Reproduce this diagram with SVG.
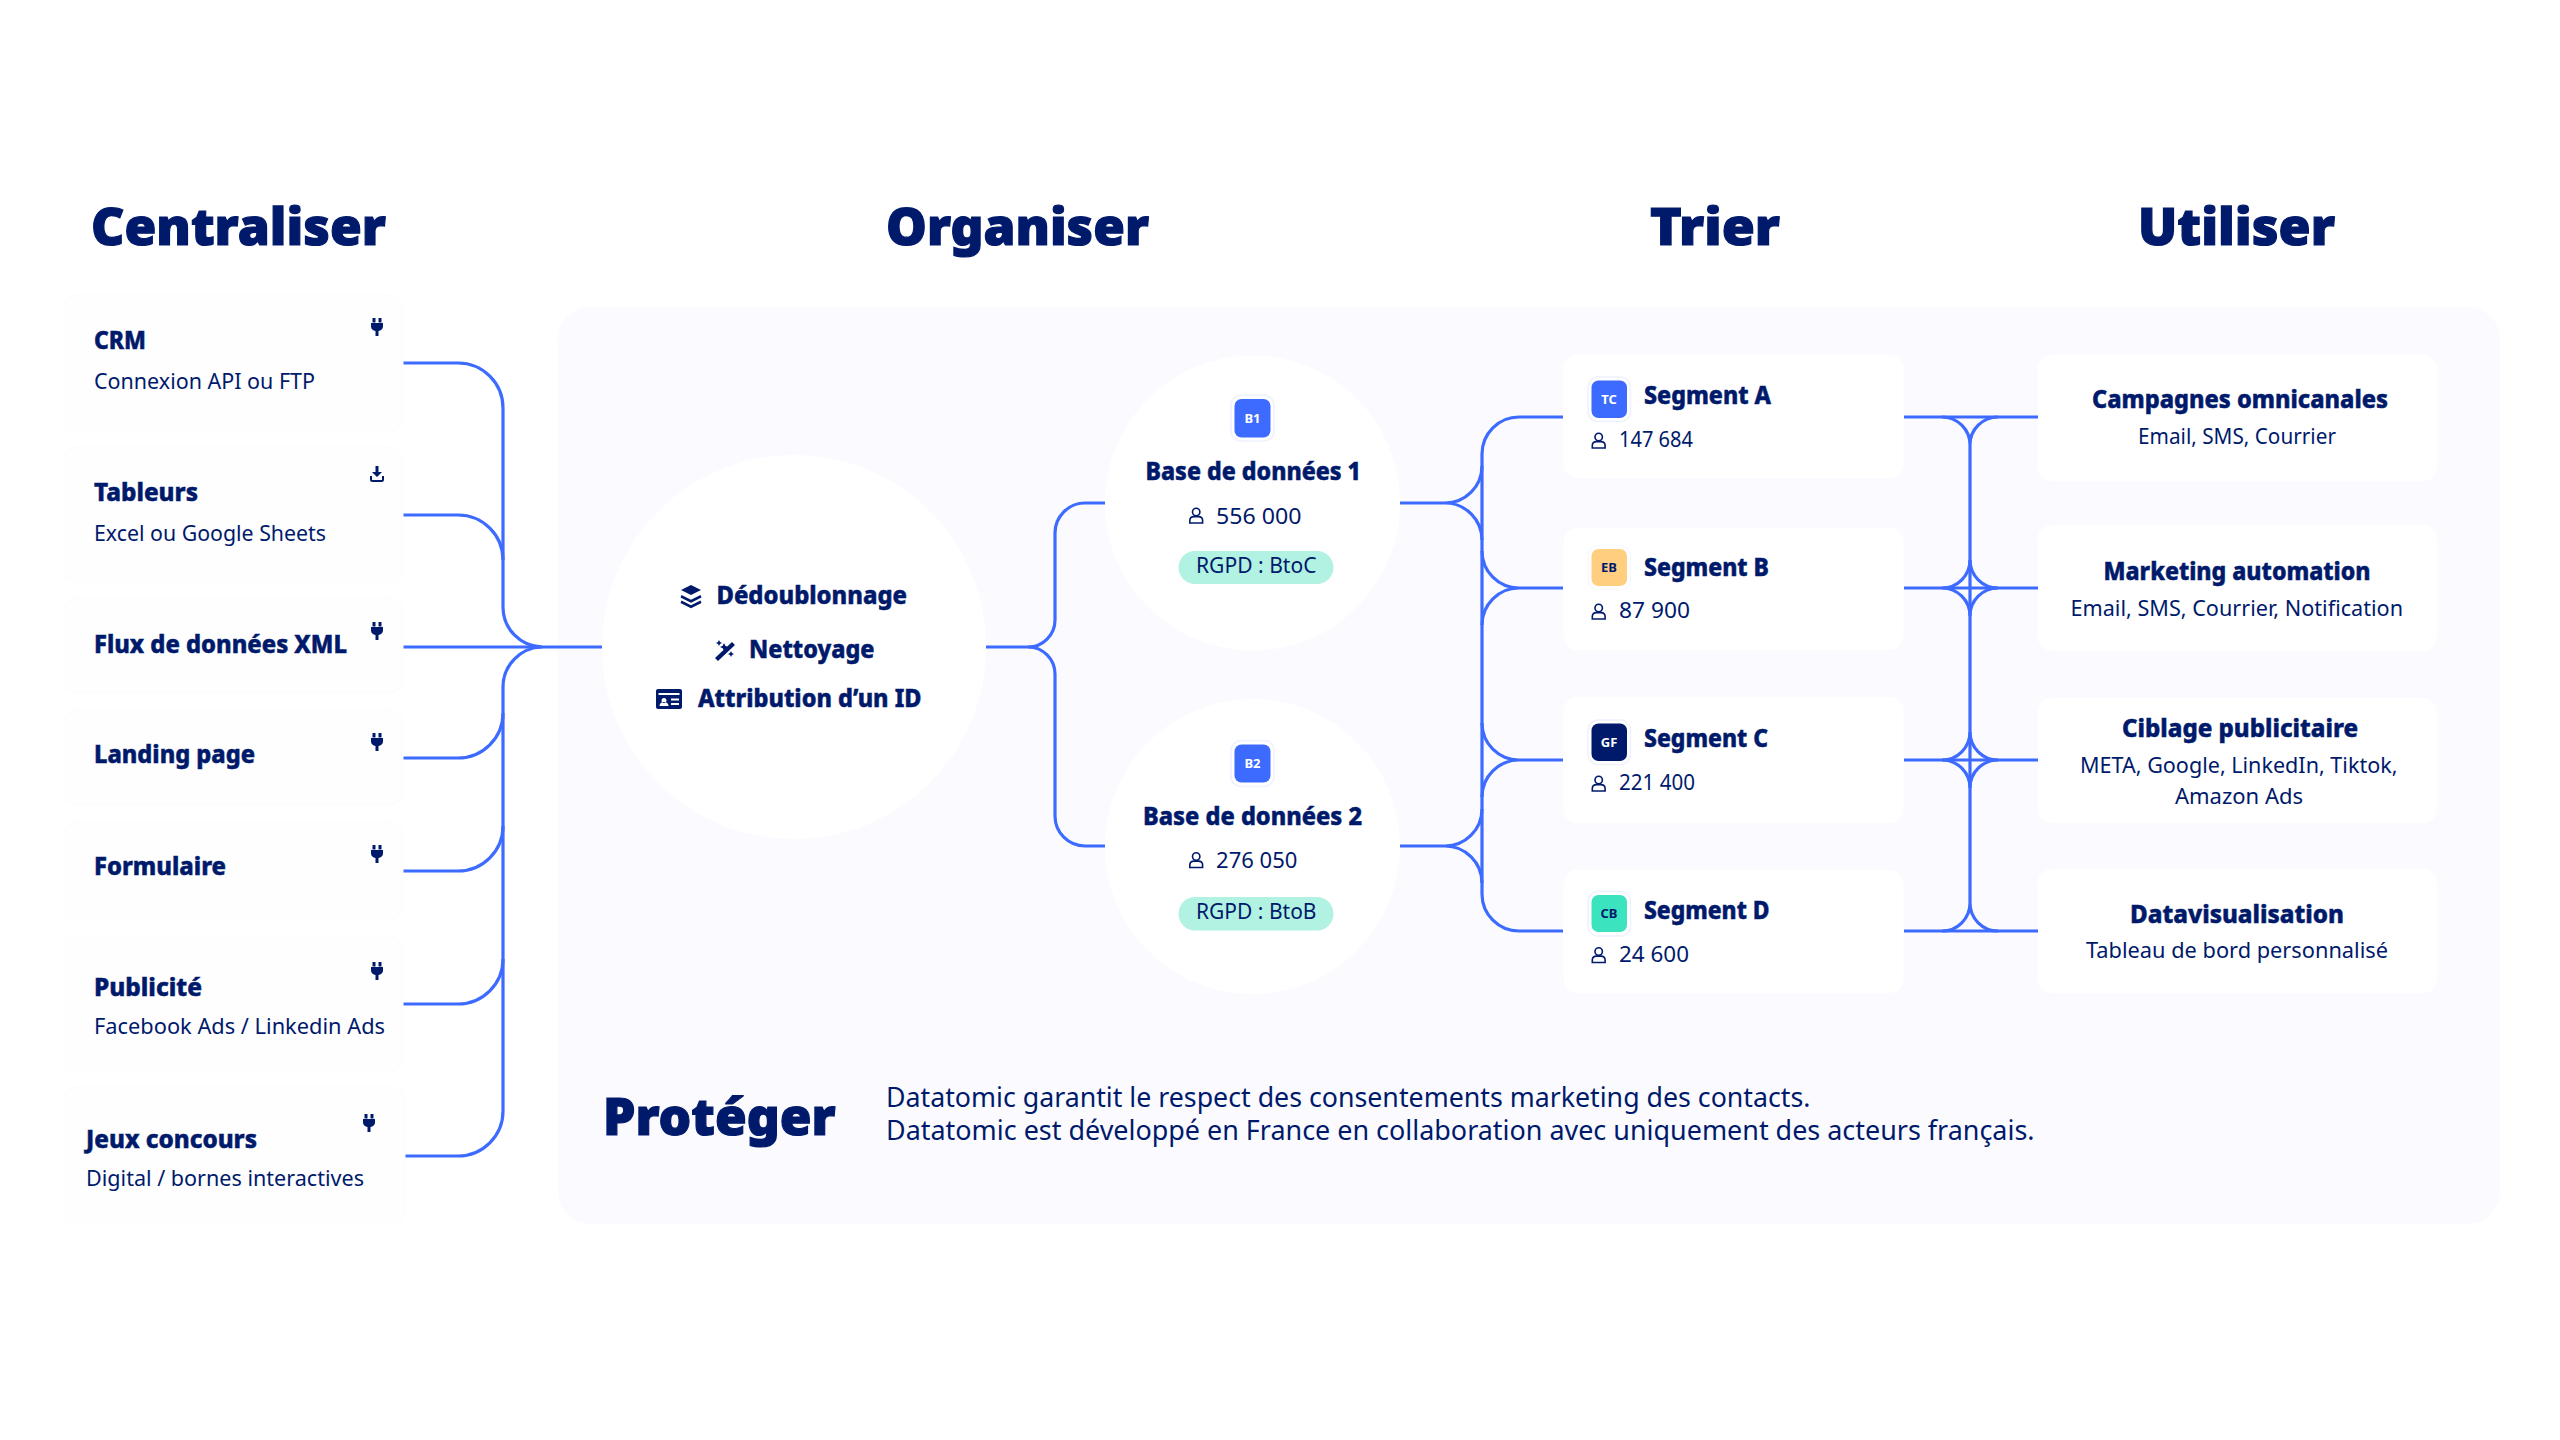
<svg xmlns="http://www.w3.org/2000/svg" width="2560" height="1440" viewBox="0 0 2560 1440">
<style>
text{font-family:"Noto Sans","Open Sans",sans-serif;fill:#001A6B}
.h{font-size:52px;font-weight:900;stroke:#001A6B;stroke-width:1.200px}
.b{font-size:25px;font-weight:800;stroke:#001A6B;stroke-width:.5px}
.r{font-size:22px;font-weight:400}
.p{font-size:27px;font-weight:400}
.t{font-size:13px;font-weight:700;text-anchor:middle}
text.w{fill:#fff}
.card{fill:#FEFEFF;stroke:#FCFCFF;stroke-width:1}
.wire{fill:none;stroke:#3D6BFF;stroke-width:3.200}
.pale{fill:#fff;stroke:#EEF1FE;stroke-width:1.500}
.pers{fill:none;stroke:#001A6B;stroke-width:1.600}
</style>
<defs>
<g id="plug"><path fill="#001A6B" d="M-4.500-9h3v4.500h-3zM1.500-9h3v4.500h-3zM-6-4h12v3.500c0 2.500-2 4-4.500 4.600v4.900h-3v-4.900c-2.500-.6-4.500-2.100-4.500-4.600z"/></g>
<g id="person"><circle cx="7.200" cy="4" r="3.700" class="pers"/><path class="pers" d="M.8 15v-2.400c0-2.500 2-4 4.300-4h4.200c2.300 0 4.300 1.500 4.300 4v2.400z"/></g>
</defs>
<rect width="2560" height="1440" fill="#fff"/>
<g id="panel"><rect x="558" y="307" width="1942" height="917" rx="32" fill="#FBFBFF"/></g>
<g id="titles">
<text class="h" x="91" y="245" textLength="295" lengthAdjust="spacingAndGlyphs">Centraliser</text>
<text class="h" x="886" y="245" textLength="263" lengthAdjust="spacingAndGlyphs">Organiser</text>
<text class="h" x="1650" y="245" textLength="130" lengthAdjust="spacingAndGlyphs">Trier</text>
<text class="h" x="2138" y="245" textLength="197" lengthAdjust="spacingAndGlyphs">Utiliser</text>
</g>
<g id="connectors" class="wire">
<path d="M403 363H458A45 45 0 0 1 503 408V607A40 40 0 0 0 542 647A40 40 0 0 0 503 687V1111A45 45 0 0 1 458 1156H405"/>
<path d="M403 515H458A45 45 0 0 1 503 560"/>
<path d="M403 647H602"/>
<path d="M403 758H458A45 45 0 0 0 503 713"/>
<path d="M403 871H458A45 45 0 0 0 503 826"/>
<path d="M403 1004H458A45 45 0 0 0 503 959"/>
<path d="M986 647H1028A27 27 0 0 0 1055 620V533A30 30 0 0 1 1085 503H1105"/>
<path d="M1028 647A27 27 0 0 1 1055 674V816A30 30 0 0 0 1085 846H1105"/>
<path d="M1400 503H1445A37 37 0 0 0 1482 466M1445 503A37 37 0 0 1 1482 540"/>
<path d="M1400 846H1445A37 37 0 0 0 1482 809M1445 846A37 37 0 0 1 1482 883"/>
<path d="M1482 454V894"/>
<path d="M1563 417H1519A37 37 0 0 0 1482 454"/>
<path d="M1563 588H1519A37 37 0 0 1 1482 551M1519 588A37 37 0 0 0 1482 625"/>
<path d="M1563 760H1519A37 37 0 0 1 1482 723M1519 760A37 37 0 0 0 1482 797"/>
<path d="M1563 931H1519A37 37 0 0 1 1482 894"/>
<path d="M1904 417H2038M1904 588H2038M1904 760H2038M1904 931H2038M1970 445V903"/>
<path d="M1942 417A28 28 0 0 1 1970 445A28 28 0 0 1 1998 417"/>
<path d="M1942 588A28 28 0 0 0 1970 560A28 28 0 0 0 1998 588A28 28 0 0 0 1970 616A28 28 0 0 0 1942 588Z"/>
<path d="M1942 760A28 28 0 0 0 1970 732A28 28 0 0 0 1998 760A28 28 0 0 0 1970 788A28 28 0 0 0 1942 760Z"/>
<path d="M1942 931A28 28 0 0 0 1970 903A28 28 0 0 0 1998 931"/>
</g>
<g id="crm"><rect class="card" x="64" y="295" width="339" height="137" rx="14"/>
<text class="b" x="94" y="349" textLength="52" lengthAdjust="spacingAndGlyphs">CRM</text>
<text class="r" x="94" y="389" textLength="221" lengthAdjust="spacingAndGlyphs">Connexion API ou FTP</text>
<use href="#plug" x="377" y="327"/></g>
<g id="tableurs"><rect class="card" x="64" y="447" width="339" height="136" rx="14"/>
<text class="b" x="94" y="501" textLength="104" lengthAdjust="spacingAndGlyphs">Tableurs</text>
<text class="r" x="94" y="541" textLength="232" lengthAdjust="spacingAndGlyphs">Excel ou Google Sheets</text>
<path fill="#001A6B" d="M375.500 466h3v6h3.500l-5 5-5-5h3.500z"/><path fill="none" stroke="#001A6B" stroke-width="2" d="M371 476v3.500c0 .8.700 1.500 1.500 1.500h9c.8 0 1.500-.7 1.500-1.500v-3.500"/></g>
<g id="xml"><rect class="card" x="64" y="598" width="339" height="95" rx="14"/>
<text class="b" x="94" y="653" textLength="253" lengthAdjust="spacingAndGlyphs">Flux de données XML</text>
<use href="#plug" x="377" y="631"/></g>
<g id="landing"><rect class="card" x="64" y="710" width="339" height="95" rx="14"/>
<text class="b" x="94" y="763" textLength="161" lengthAdjust="spacingAndGlyphs">Landing page</text>
<use href="#plug" x="377" y="742"/></g>
<g id="formulaire"><rect class="card" x="64" y="822" width="339" height="98" rx="14"/>
<text class="b" x="94" y="875" textLength="132" lengthAdjust="spacingAndGlyphs">Formulaire</text>
<use href="#plug" x="377" y="854"/></g>
<g id="publicite"><rect class="card" x="64" y="936" width="339" height="136" rx="14"/>
<text class="b" x="94" y="996" textLength="108" lengthAdjust="spacingAndGlyphs">Publicité</text>
<text class="r" x="94" y="1034" textLength="291" lengthAdjust="spacingAndGlyphs">Facebook Ads / Linkedin Ads</text>
<use href="#plug" x="377" y="971"/></g>
<g id="jeux"><rect class="card" x="64" y="1087" width="341" height="137" rx="14"/>
<text class="b" x="86" y="1148" textLength="171" lengthAdjust="spacingAndGlyphs">Jeux concours</text>
<text class="r" x="86" y="1186" textLength="278" lengthAdjust="spacingAndGlyphs">Digital / bornes interactives</text>
<use href="#plug" x="369" y="1123"/></g>
<g id="traitement"><circle cx="794" cy="647" r="192" fill="#fff"/>
<path fill="#001A6B" d="M691 585l10 5-10 5-10-5zM681.500 595l9.500 4.800 9.500-4.800 1 2.500-10.500 5.200-10.500-5.200zM681.500 600.500l9.500 4.800 9.500-4.800 1 2.500-10.500 5.200-10.500-5.200z"/>
<text class="b" x="716.500" y="604" textLength="190.500" lengthAdjust="spacingAndGlyphs">Dédoublonnage</text>
<path fill="#001A6B" d="M715 658l17-16 3 3-17 16zM724 643l1.300 2.700 2.700 1.300-2.700 1.300-1.300 2.700-1.300-2.700-2.700-1.300 2.700-1.300zM719 640l1 2 2 1-2 1-1 2-1-2-2-1 2-1zM731 651l1 2 2 1-2 1-1 2-1-2-2-1 2-1z"/>
<text class="b" x="749" y="658" textLength="125.500" lengthAdjust="spacingAndGlyphs">Nettoyage</text>
<path fill="#001A6B" fill-rule="evenodd" d="M658 689h22c1 0 2 .8 2 2v16c0 1-1 2-2 2h-22c-1 0-2-1-2-2v-16c0-1.200 1-2 2-2zM658.500 693v2h21v-2zM664 698a2.500 2.500 0 1 0 .01 0zM659.500 706h9c0-2.500-2-4-4.500-4s-4.500 1.500-4.500 4zM671 698.500v2h8v-2zM671 703v2h8v-2z"/>
<text class="b" x="698" y="707" textLength="223.500" lengthAdjust="spacingAndGlyphs">Attribution d’un ID</text></g>
<g id="base1"><circle cx="1252.500" cy="503" r="147.500" fill="#fff"/>
<rect class="pale" x="1231" y="395" width="43" height="46" rx="10"/><rect x="1234.500" y="399" width="36" height="38.500" rx="7" fill="#3D6BFF"/>
<text class="t w" x="1252.500" y="423">B1</text>
<text class="b" x="1145.500" y="479.500" textLength="215.500" lengthAdjust="spacingAndGlyphs">Base de données 1</text>
<use href="#person" x="1189" y="508"/>
<text class="r" x="1216" y="523.500" textLength="85.500" lengthAdjust="spacingAndGlyphs">556 000</text>
<rect x="1178.500" y="551" width="155" height="33" rx="16.500" fill="#B2F2E2"/>
<text class="r" x="1196" y="573" textLength="120.500" lengthAdjust="spacingAndGlyphs">RGPD : BtoC</text></g>
<g id="base2"><circle cx="1252.500" cy="846.500" r="147.500" fill="#fff"/>
<rect class="pale" x="1231" y="740.500" width="43" height="46" rx="10"/><rect x="1234.500" y="744.500" width="36" height="38" rx="7" fill="#3D6BFF"/>
<text class="t w" x="1252.500" y="768">B2</text>
<text class="b" x="1143" y="824.500" textLength="219" lengthAdjust="spacingAndGlyphs">Base de données 2</text>
<use href="#person" x="1189" y="852.500"/>
<text class="r" x="1216" y="868" textLength="81.500" lengthAdjust="spacingAndGlyphs">276 050</text>
<rect x="1178.500" y="897" width="155" height="33.500" rx="16.500" fill="#B2F2E2"/>
<text class="r" x="1196" y="919" textLength="120.500" lengthAdjust="spacingAndGlyphs">RGPD : BtoB</text></g>
<g id="segmentA"><rect x="1563.500" y="355" width="340" height="123" rx="14" fill="#fff"/>
<rect class="pale" x="1588" y="377" width="42.500" height="44.500" rx="10"/><rect x="1591.500" y="380.500" width="35.500" height="37.500" rx="7" fill="#3D6BFF"/>
<text class="t w" x="1609" y="404">TC</text>
<text class="b" x="1644" y="404" textLength="127" lengthAdjust="spacingAndGlyphs">Segment A</text>
<use href="#person" x="1591.500" y="433"/>
<text class="r" x="1619" y="446.500" textLength="74" lengthAdjust="spacingAndGlyphs">147 684</text></g>
<g id="segmentB"><rect x="1563.500" y="528" width="340" height="122" rx="14" fill="#fff"/>
<rect class="pale" x="1588" y="545.500" width="42.500" height="44.500" rx="10" stroke-opacity=".4"/><rect x="1591.500" y="549" width="35.500" height="37" rx="7" fill="#FFCF7F"/>
<text class="t" x="1609" y="572">EB</text>
<text class="b" x="1644" y="576" textLength="125" lengthAdjust="spacingAndGlyphs">Segment B</text>
<use href="#person" x="1591.500" y="604"/>
<text class="r" x="1619" y="617.500" textLength="71" lengthAdjust="spacingAndGlyphs">87 900</text></g>
<g id="segmentC"><rect x="1563.500" y="697" width="340" height="126" rx="14" fill="#fff"/>
<rect class="pale" x="1588" y="720" width="42.500" height="44.500" rx="10"/><rect x="1591.500" y="723.500" width="35.500" height="37.500" rx="7" fill="#001A6B"/>
<text class="t w" x="1609" y="747">GF</text>
<text class="b" x="1644" y="747" textLength="124" lengthAdjust="spacingAndGlyphs">Segment C</text>
<use href="#person" x="1591.500" y="776"/>
<text class="r" x="1619" y="790" textLength="76" lengthAdjust="spacingAndGlyphs">221 400</text></g>
<g id="segmentD"><rect x="1563.500" y="870" width="340" height="123" rx="14" fill="#fff"/>
<rect class="pale" x="1588" y="891.500" width="42.500" height="44.500" rx="10"/><rect x="1591.500" y="895" width="35.500" height="37" rx="7" fill="#3BE3BF"/>
<text class="t" x="1609" y="918">CB</text>
<text class="b" x="1644" y="919" textLength="125.500" lengthAdjust="spacingAndGlyphs">Segment D</text>
<use href="#person" x="1591.500" y="947.500"/>
<text class="r" x="1619" y="961.500" textLength="70" lengthAdjust="spacingAndGlyphs">24 600</text></g>
<g id="campagnes"><rect x="2038" y="355" width="399" height="126" rx="14" fill="#fff"/>
<text class="b" x="2092" y="408" textLength="296" lengthAdjust="spacingAndGlyphs">Campagnes omnicanales</text>
<text class="r" x="2138" y="444" textLength="198" lengthAdjust="spacingAndGlyphs">Email, SMS, Courrier</text></g>
<g id="automation"><rect x="2038" y="525" width="399" height="126" rx="14" fill="#fff"/>
<text class="b" x="2103.500" y="580" textLength="267" lengthAdjust="spacingAndGlyphs">Marketing automation</text>
<text class="r" x="2070.500" y="615.500" textLength="332.500" lengthAdjust="spacingAndGlyphs">Email, SMS, Courrier, Notification</text></g>
<g id="ciblage"><rect x="2038" y="698" width="399" height="125" rx="14" fill="#fff"/>
<text class="b" x="2122" y="736.500" textLength="236" lengthAdjust="spacingAndGlyphs">Ciblage publicitaire</text>
<text class="r" x="2080" y="772.500" textLength="317.500" lengthAdjust="spacingAndGlyphs">META, Google, LinkedIn, Tiktok,</text>
<text class="r" x="2175" y="803.500" textLength="128" lengthAdjust="spacingAndGlyphs">Amazon Ads</text></g>
<g id="datavisualisation"><rect x="2038" y="869" width="399" height="124" rx="14" fill="#fff"/>
<text class="b" x="2130" y="922.500" textLength="214" lengthAdjust="spacingAndGlyphs">Datavisualisation</text>
<text class="r" x="2086" y="958" textLength="302" lengthAdjust="spacingAndGlyphs">Tableau de bord personnalisé</text></g>
<g id="proteger">
<text class="h" x="603" y="1135" textLength="232.500" lengthAdjust="spacingAndGlyphs">Protéger</text>
<text class="p" x="886" y="1107" textLength="924.500" lengthAdjust="spacingAndGlyphs">Datatomic garantit le respect des consentements marketing des contacts.</text>
<text class="p" x="886" y="1140" textLength="1148.500" lengthAdjust="spacingAndGlyphs">Datatomic est développé en France en collaboration avec uniquement des acteurs français.</text>
</g>
</svg>
